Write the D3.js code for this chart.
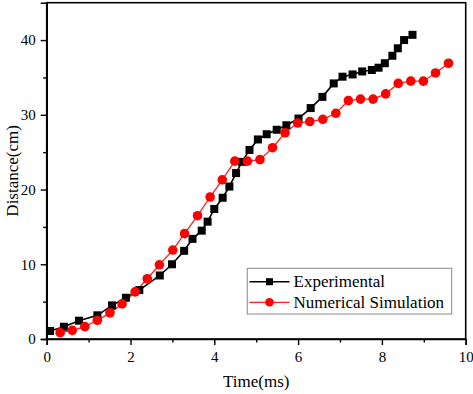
<!DOCTYPE html>
<html>
<head>
<meta charset="utf-8">
<script src="https://cdn.jsdelivr.net/npm/d3@7/dist/d3.min.js"></script>
<style>
html,body{margin:0;padding:0;background:#fff;}
svg{display:block;}
text{font-family:"Liberation Serif","Times New Roman",serif;font-weight:normal;fill:#000;}
</style>
</head>
<body>
<svg id="chart" width="473" height="394"></svg>
<script>
const expTime = [0.08,0.41,0.77,1.21,1.56,1.89,2.21,2.70,2.99,3.28,3.48,3.70,3.84,4.00,4.20,4.36,4.52,4.66,4.84,5.04,5.25,5.49,5.72,6.01,6.30,6.58,6.85,7.06,7.30,7.53,7.76,7.92,8.07,8.25,8.38,8.53,8.73];
const expDist = [1.07,1.64,2.45,3.17,4.5,5.52,6.55,8.5,10.0,11.8,13.4,14.5,15.7,17.4,18.9,20.4,22.2,23.7,25.3,26.7,27.4,28.0,28.6,29.5,30.9,32.4,34.2,35.1,35.4,35.8,36.0,36.3,36.9,37.9,38.9,40.0,40.7];
const simTime = [0.32,0.61,0.91,1.21,1.51,1.80,2.11,2.40,2.69,3.01,3.29,3.60,3.90,4.19,4.49,4.79,5.09,5.39,5.69,5.99,6.28,6.59,6.90,7.20,7.49,7.79,8.09,8.39,8.69,8.99,9.28,9.59];
const simDist = [0.85,1.16,1.65,2.5,3.5,4.7,6.3,8.06,9.93,11.9,14.1,16.5,19.0,21.3,23.8,23.8,24.0,25.6,27.6,28.9,29.1,29.4,30.2,31.9,32.1,32.1,32.8,34.2,34.5,34.5,35.6,36.9];
const xTicks = [0,2,4,6,8,10];
const xMinor = [1,3,5,7,9];
const yTicks = [0,10,20,30,40];
const yMinor = [5,15,25,35];
const seriesNames = ["Experimental","Numerical Simulation"];
const xTitle = "Time(ms)";
const yTitle = "Distance(cm)";

const svg = d3.select("#chart");
const L = 46.7, R = 465.7, T = 2.7, B = 339;
const x = d3.scaleLinear().domain([0,10]).range([L,R]);
const y = d3.scaleLinear().domain([0,45]).range([B,T]);

// frame
svg.append("rect").attr("x",L).attr("y",T).attr("width",R-L).attr("height",B-T)
  .attr("fill","none").attr("stroke","#000").attr("stroke-width",1.6);

// x axis
svg.append("g").attr("transform",`translate(0,${B})`)
  .call(d3.axisBottom(x).tickValues(xTicks).tickFormat(d3.format("d")).tickSize(6).tickPadding(6));
svg.append("g").attr("transform",`translate(0,${B})`)
  .call(d3.axisBottom(x).tickValues(xMinor).tickFormat("").tickSize(3.5))
  .call(g=>g.select(".domain").remove());
// y axis
svg.append("g").attr("transform",`translate(${L},0)`)
  .call(d3.axisLeft(y).tickValues(yTicks).tickFormat(d3.format("d")).tickSize(6).tickPadding(5));
svg.append("g").attr("transform",`translate(${L},0)`)
  .call(d3.axisLeft(y).tickValues(yMinor).tickFormat("").tickSize(3.5))
  .call(g=>g.select(".domain").remove());

svg.selectAll(".domain").attr("stroke","#000").attr("stroke-width",1.6);
svg.selectAll(".tick line").attr("stroke","#000").attr("stroke-width",1.4);
svg.selectAll(".tick text").style("font-family","'Liberation Serif','Times New Roman',serif").style("font-size","15px").style("font-weight","normal").attr("fill","#000");

// titles
svg.append("text").attr("x",(L+R)/2).attr("y",387).attr("text-anchor","middle")
  .style("font-size","17px").text(xTitle);
svg.append("text").attr("transform",`translate(18,${(T+B)/2}) rotate(-90)`).attr("text-anchor","middle")
  .style("font-size","17px").text(yTitle);

const expData = expTime.map((t,i)=>({t, d:expDist[i]}));
const simData = simTime.map((t,i)=>({t, d:simDist[i]}));
const line = d3.line().x(p=>x(p.t)).y(p=>y(p.d));

svg.append("path").datum(expData).attr("d",line).attr("fill","none").attr("stroke","#000").attr("stroke-width",1.6);
svg.append("path").datum(simData).attr("d",line).attr("fill","none").attr("stroke","#ff2020").attr("stroke-width",1.3);

const sq = 8;
svg.append("g").selectAll("rect").data(expData).join("rect")
  .attr("x",p=>x(p.t)-sq/2).attr("y",p=>y(p.d)-sq/2).attr("width",sq).attr("height",sq).attr("fill","#000");
svg.append("g").selectAll("circle").data(simData).join("circle")
  .attr("cx",p=>x(p.t)).attr("cy",p=>y(p.d)).attr("r",4.8).attr("fill","#ff0000");

// legend
const lg = svg.append("g");
lg.append("rect").attr("x",247.3).attr("y",268.3).attr("width",204.4).attr("height",45.7)
  .attr("fill","#fff").attr("stroke","#8a8a8a").attr("stroke-width",1);
const rows = [281.7, 302.3];
lg.append("line").attr("x1",249.5).attr("x2",289.5).attr("y1",rows[0]).attr("y2",rows[0]).attr("stroke","#000").attr("stroke-width",1.6);
lg.append("rect").attr("x",269.5-3.5).attr("y",rows[0]-3.5).attr("width",7).attr("height",7).attr("fill","#000");
lg.append("line").attr("x1",249.5).attr("x2",289.5).attr("y1",rows[1]).attr("y2",rows[1]).attr("stroke","#ff2020").attr("stroke-width",1.3);
lg.append("circle").attr("cx",269.5).attr("cy",rows[1]).attr("r",4.3).attr("fill","#ff0000");
seriesNames.forEach((n,i)=>{
  lg.append("text").attr("x",293.5).attr("y",rows[i]).attr("dy","0.33em").style("font-size","17px").text(n);
});
</script>
</body>
</html>
